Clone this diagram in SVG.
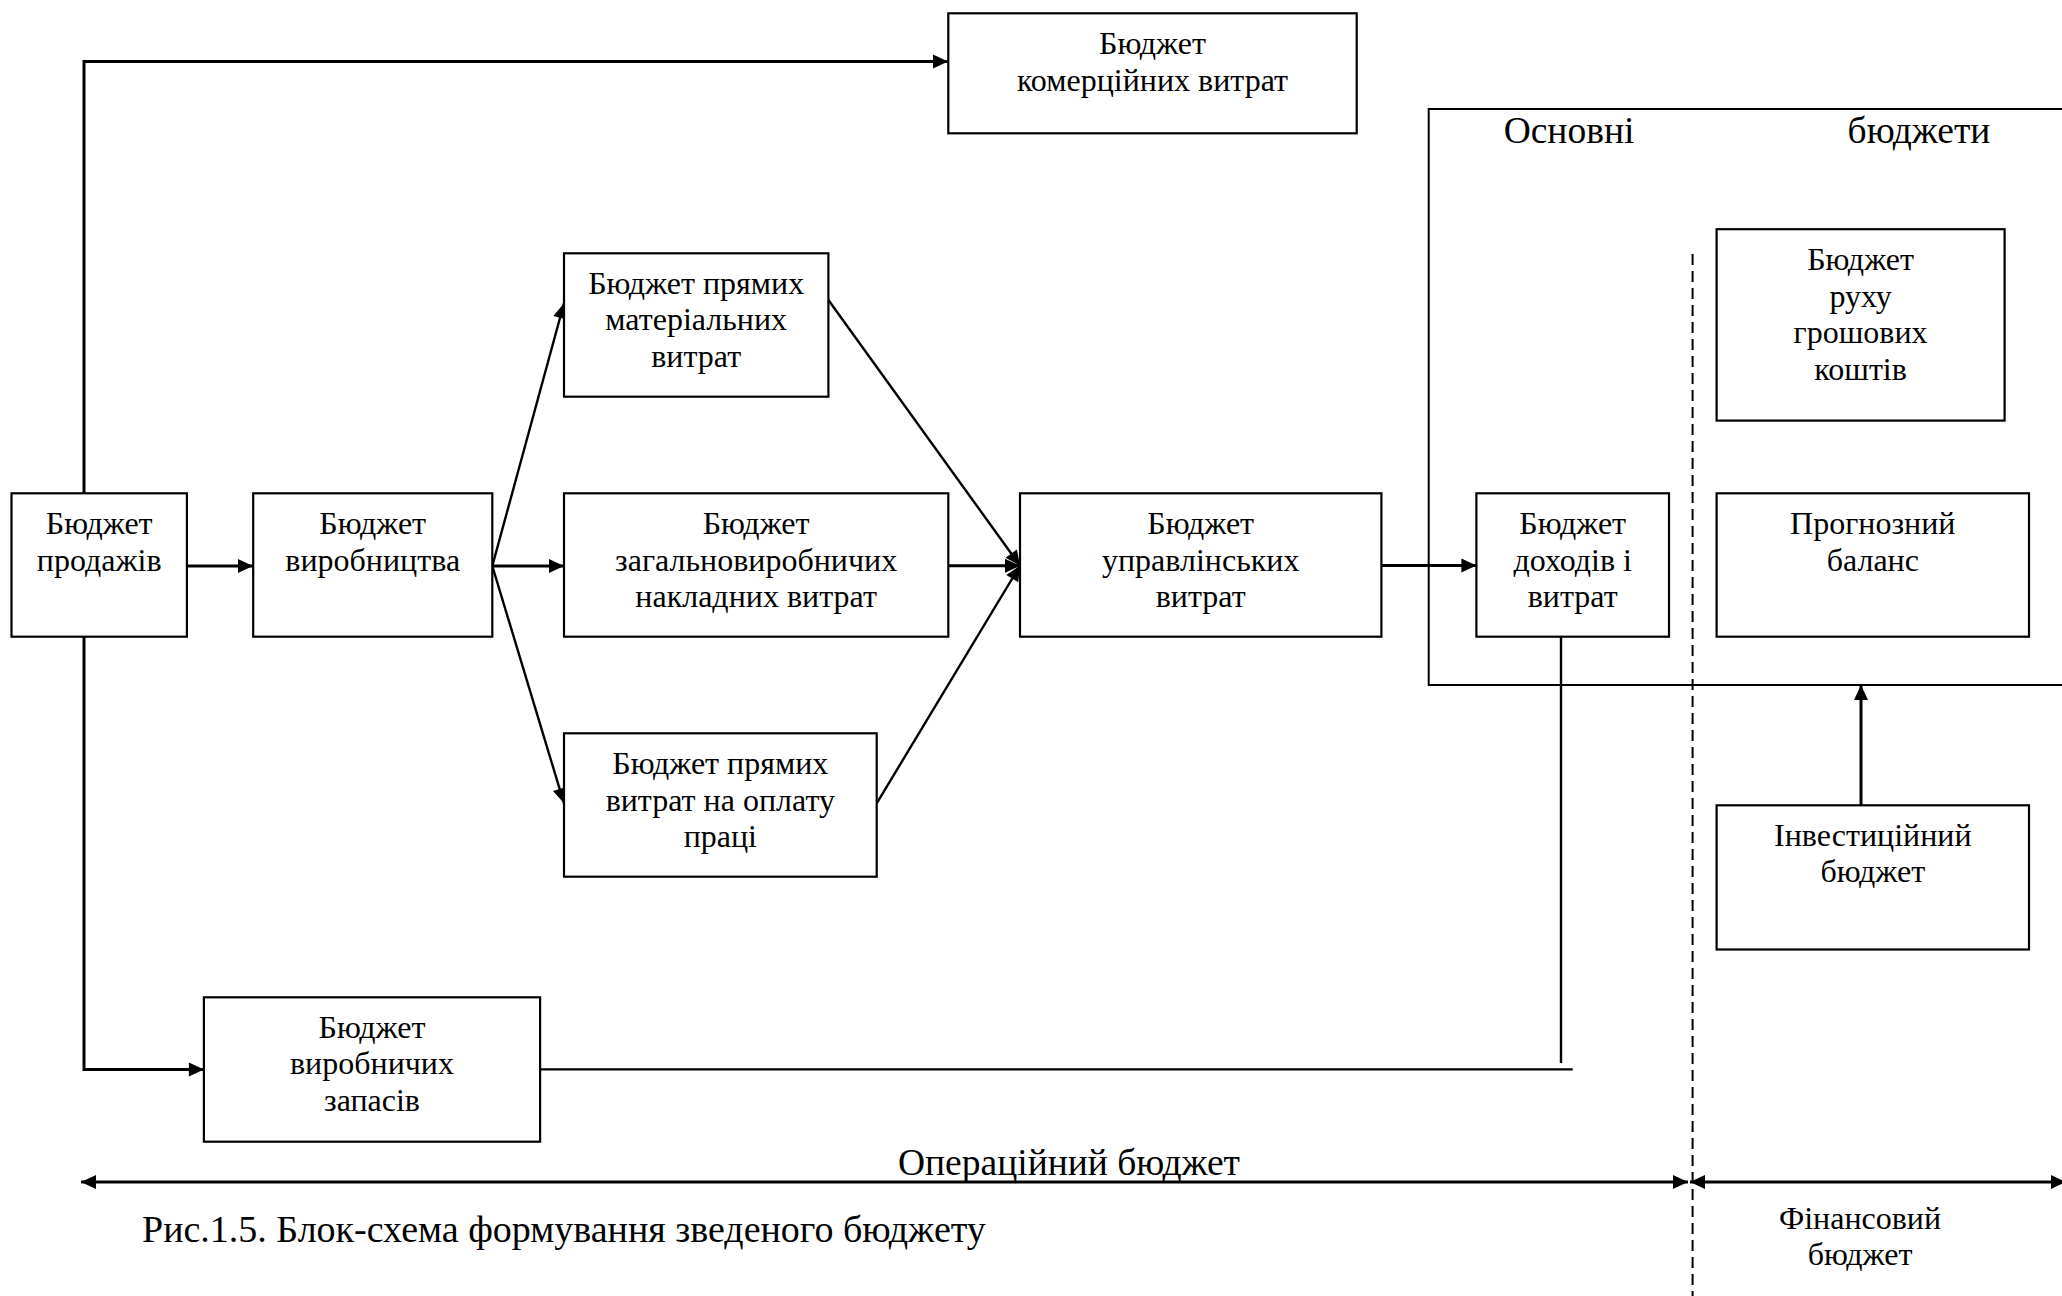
<svg xmlns="http://www.w3.org/2000/svg" width="2062" height="1296" viewBox="0 0 2062 1296">
<defs>
<marker id="ah" markerUnits="userSpaceOnUse" markerWidth="16" markerHeight="14" refX="15" refY="7" orient="auto" overflow="visible">
<path d="M0,0 L15,7 L0,14 z" fill="#000"/>
</marker>
<marker id="ahs" markerUnits="userSpaceOnUse" markerWidth="16" markerHeight="14" refX="15" refY="7" orient="auto-start-reverse" overflow="visible">
<path d="M0,0 L15,7 L0,14 z" fill="#000"/>
</marker>
</defs>
<style>
.box{fill:#fff;stroke:#000;stroke-width:2.2}
.t{font-family:"Liberation Serif","Times New Roman",serif;font-size:32px;fill:#000;text-anchor:middle}
.h{font-family:"Liberation Serif","Times New Roman",serif;font-size:37.5px;fill:#000;text-anchor:middle}
.c{fill:none;stroke:#000;stroke-width:3}
.d{fill:none;stroke:#000;stroke-width:2.4}
.thin{fill:none;stroke:#000;stroke-width:2}
</style>
<rect width="2062" height="1296" fill="#fff"/>

<g id="outer-frame">
<path class="thin" d="M2070,109 L1428.7,109 L1428.7,685 L2070,685"/>
<text class="h" x="1569" y="143">Основні</text>
<text class="h" x="1919" y="143">бюджети</text>
</g>
<line id="divider" x1="1692.6" y1="254" x2="1692.6" y2="1296" stroke="#000" stroke-width="2" stroke-dasharray="11,6"/>

<g id="connectors">
<path class="c" d="M84,493 L84,61.5 L948,61.5" marker-end="url(#ah)"/>
<path class="c" d="M182,566 L253,566" marker-end="url(#ah)"/>
<path class="c" d="M492.3,566 L564,566" marker-end="url(#ah)"/>
<path class="d" d="M492.3,566 L564,303.3" marker-end="url(#ah)"/>
<path class="d" d="M492.3,566 L564,803.3" marker-end="url(#ah)"/>
<path class="d" d="M828.4,300 L1020,565.7" marker-end="url(#ah)"/>
<path class="c" d="M948.3,565.7 L1020,565.7" marker-end="url(#ah)"/>
<path class="d" d="M876.7,803.3 L1020,565.7" marker-end="url(#ah)"/>
<path class="c" d="M1381.4,565.5 L1476.4,565.5" marker-end="url(#ah)"/>
<path class="d" d="M1561,636.7 L1561,1063"/>
<path class="d" d="M540,1069.4 L1572.7,1069.4"/>
<path class="c" d="M84,636.7 L84,1069.4 L203.9,1069.4" marker-end="url(#ah)"/>
<path class="c" d="M1861,805.3 L1861,685" marker-end="url(#ah)"/>
<path class="c" d="M81,1182 L1688,1182" marker-start="url(#ahs)" marker-end="url(#ah)"/>
<path class="c" d="M1690,1182 L2066,1182" marker-start="url(#ahs)" marker-end="url(#ah)"/>
</g>

<g id="n-komerc">
<rect class="box" x="948.3" y="13.3" width="408.4" height="120"/>
<text class="t" x="1152.5" y="54.3">Бюджет</text>
<text class="t" x="1152.5" y="90.5">комерційних витрат</text>
</g>
<g id="n-prodazh">
<rect class="box" x="11.5" y="493.3" width="175.4" height="143.4"/>
<text class="t" x="99.2" y="534">Бюджет</text>
<text class="t" x="99.2" y="570.5">продажів</text>
</g>
<g id="n-vyrob">
<rect class="box" x="253.2" y="493.3" width="239.1" height="143.4"/>
<text class="t" x="372.7" y="534">Бюджет</text>
<text class="t" x="372.7" y="570.5">виробництва</text>
</g>
<g id="n-mater">
<rect class="box" x="564" y="253.3" width="264.4" height="143.4"/>
<text class="t" x="696.2" y="293.5">Бюджет прямих</text>
<text class="t" x="696.2" y="330">матеріальних</text>
<text class="t" x="696.2" y="366.5">витрат</text>
</g>
<g id="n-zagal">
<rect class="box" x="564" y="493.3" width="384.3" height="143.4"/>
<text class="t" x="756.1" y="534">Бюджет</text>
<text class="t" x="756.1" y="570.5">загальновиробничих</text>
<text class="t" x="756.1" y="607">накладних витрат</text>
</g>
<g id="n-oplata">
<rect class="box" x="564" y="733.3" width="312.7" height="143.4"/>
<text class="t" x="720.3" y="774">Бюджет прямих</text>
<text class="t" x="720.3" y="810.5">витрат на оплату</text>
<text class="t" x="720.3" y="847">праці</text>
</g>
<g id="n-upravl">
<rect class="box" x="1020" y="493.3" width="361.4" height="143.4"/>
<text class="t" x="1200.7" y="534">Бюджет</text>
<text class="t" x="1200.7" y="570.5">управлінських</text>
<text class="t" x="1200.7" y="607">витрат</text>
</g>
<g id="n-dohody">
<rect class="box" x="1476.4" y="493.3" width="192.6" height="143.4"/>
<text class="t" x="1572.7" y="534">Бюджет</text>
<text class="t" x="1572.7" y="570.5">доходів і</text>
<text class="t" x="1572.7" y="607">витрат</text>
</g>
<g id="n-rukh">
<rect class="box" x="1716.6" y="229.2" width="288" height="191.4"/>
<text class="t" x="1860.6" y="270">Бюджет</text>
<text class="t" x="1860.6" y="306.5">руху</text>
<text class="t" x="1860.6" y="343">грошових</text>
<text class="t" x="1860.6" y="379.5">коштів</text>
</g>
<g id="n-balans">
<rect class="box" x="1716.6" y="493.3" width="312.4" height="143.4"/>
<text class="t" x="1872.8" y="534">Прогнозний</text>
<text class="t" x="1872.8" y="570.5">баланс</text>
</g>
<g id="n-invest">
<rect class="box" x="1716.6" y="805.3" width="312.4" height="144.2"/>
<text class="t" x="1872.8" y="845.7">Інвестиційний</text>
<text class="t" x="1872.8" y="882.3">бюджет</text>
</g>
<g id="n-zapasy">
<rect class="box" x="203.9" y="997.3" width="336.2" height="144.4"/>
<text class="t" x="372" y="1037.5">Бюджет</text>
<text class="t" x="372" y="1074">виробничих</text>
<text class="t" x="372" y="1110.5">запасів</text>
</g>

<g id="labels">
<text class="h" x="1069" y="1174.5">Операційний бюджет</text>
<text class="t" x="1860" y="1229">Фінансовий</text>
<text class="t" x="1860" y="1265">бюджет</text>
<text class="h" x="142" y="1242" style="text-anchor:start;font-size:38px">Рис.1.5. Блок-схема формування зведеного бюджету</text>
</g>
</svg>
